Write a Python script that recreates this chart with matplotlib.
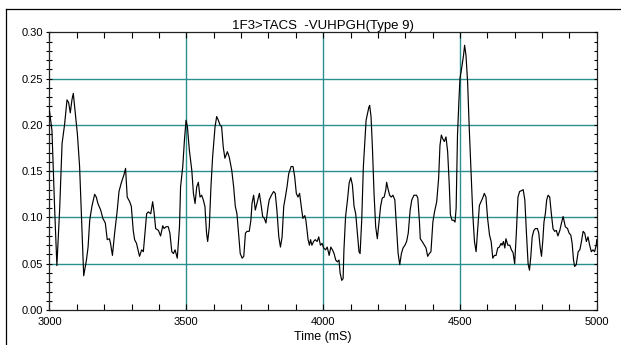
import matplotlib
matplotlib.use("Agg")
import matplotlib.pyplot as plt
from matplotlib.ticker import MultipleLocator, FormatStrFormatter
from matplotlib.lines import Line2D

plt.rcParams['font.family'] = ['Liberation Sans', 'DejaVu Sans']

# signal (time in ms, amplitude)
time_ms = [3000, 3009, 3019, 3027, 3037, 3046, 3055, 3064, 3070, 3076,
           3082, 3087, 3092, 3102, 3110, 3116, 3125, 3135, 3141, 3147,
           3155, 3165, 3171, 3177, 3187, 3195, 3204, 3211, 3219, 3223,
           3230, 3238, 3247, 3254, 3262, 3272, 3278, 3284, 3293, 3299,
           3306, 3311, 3318, 3329,
           3337, 3343, 3349, 3355, 3361, 3370, 3377, 3382, 3388, 3398,
           3406, 3414, 3419, 3426, 3434, 3440, 3447, 3453, 3459, 3467,
           3475, 3479, 3487, 3493, 3499, 3504, 3511, 3520, 3526, 3532,
           3538, 3544, 3550, 3556, 3562, 3568, 3574, 3578, 3584, 3590,
           3596, 3605, 3611, 3617, 3623, 3629, 3635, 3641, 3650, 3657,
           3666,
           3673, 3679, 3685, 3691, 3697, 3704, 3710, 3716, 3722, 3730,
           3736, 3740, 3746, 3752, 3758, 3767, 3774, 3779, 3785, 3791,
           3799, 3803, 3811, 3819, 3825, 3831, 3838, 3844, 3850, 3856,
           3862, 3868, 3874, 3883, 3890, 3896, 3902, 3908, 3914, 3920,
           3926, 3933, 3937, 3945, 3950, 3954, 3959, 3965, 3971, 3978,
           3984, 3990, 3996, 4002,
           4009, 4015, 4022, 4028, 4034, 4040, 4046, 4052, 4058, 4062,
           4068, 4073, 4076, 4082, 4089, 4095, 4101, 4107, 4113, 4119,
           4125, 4131, 4135, 4141, 4147, 4152, 4157, 4162, 4167, 4170,
           4175, 4180, 4186, 4192, 4198, 4204, 4210, 4216, 4223, 4229,
           4232, 4237, 4243, 4249, 4255, 4262, 4268, 4274, 4280, 4286,
           4292, 4299, 4305, 4311, 4318, 4324, 4332, 4341,
           4346, 4352, 4355, 4362, 4370, 4376, 4382, 4388, 4394, 4401,
           4407, 4415, 4422, 4427, 4432, 4437, 4443, 4449, 4455, 4461,
           4465, 4471, 4477, 4482, 4486, 4491, 4496, 4500, 4506, 4513,
           4517, 4522, 4528, 4534, 4541, 4547, 4553, 4559, 4565, 4571,
           4577, 4583, 4589, 4595, 4601, 4608, 4614, 4620, 4626, 4632,
           4638, 4644, 4650, 4654, 4659, 4664, 4668, 4675,
           4682, 4688, 4694, 4700, 4706, 4712, 4718, 4725, 4731, 4737,
           4743, 4749, 4754, 4759, 4764, 4770, 4776, 4783, 4788, 4793,
           4798, 4803, 4807, 4812, 4817, 4822, 4828, 4834, 4840, 4846,
           4852, 4858, 4865, 4871, 4877, 4880, 4885, 4893, 4899, 4905,
           4910, 4915, 4919, 4925, 4932, 4938, 4944, 4950, 4956, 4962,
           4968, 4974, 4980, 4986, 4992, 4998, 5000]

amplitude = [0.215, 0.194, 0.108, 0.048, 0.108, 0.180, 0.200, 0.227, 0.224, 0.213,
             0.227, 0.234, 0.219, 0.190, 0.155, 0.108, 0.037, 0.054, 0.068, 0.097,
             0.112, 0.125, 0.122, 0.115, 0.108, 0.099, 0.094, 0.076, 0.077, 0.072,
             0.059, 0.083, 0.106, 0.128, 0.137, 0.146, 0.153, 0.122, 0.117, 0.112,
             0.086, 0.076, 0.072, 0.058,
             0.065, 0.063, 0.083, 0.104, 0.106, 0.104, 0.117, 0.106, 0.088, 0.086,
             0.080, 0.091, 0.088, 0.090, 0.090, 0.083, 0.063, 0.061, 0.065, 0.056,
             0.090, 0.133, 0.155, 0.183, 0.205, 0.198, 0.173, 0.151, 0.126, 0.115,
             0.133, 0.138, 0.122, 0.124, 0.119, 0.112, 0.083, 0.074, 0.090, 0.133,
             0.165, 0.198, 0.209, 0.205, 0.200, 0.198, 0.176, 0.164, 0.171, 0.165,
             0.151,
             0.133, 0.112, 0.104, 0.083, 0.061, 0.056, 0.058, 0.083, 0.085, 0.085,
             0.097, 0.115, 0.124, 0.108, 0.115, 0.126, 0.112, 0.101, 0.099, 0.094,
             0.112, 0.119, 0.124, 0.128, 0.126, 0.108, 0.079, 0.068, 0.079, 0.112,
             0.122, 0.133, 0.147, 0.155, 0.155, 0.144, 0.126, 0.122, 0.126, 0.112,
             0.099, 0.102, 0.097, 0.076, 0.070, 0.076, 0.070, 0.074, 0.076, 0.074,
             0.079, 0.070, 0.072, 0.067,
             0.065, 0.068, 0.059, 0.068, 0.065, 0.061, 0.054, 0.052, 0.054, 0.040,
             0.032, 0.034, 0.065, 0.101, 0.119, 0.137, 0.143, 0.135, 0.112, 0.104,
             0.083, 0.063, 0.061, 0.097, 0.155, 0.180, 0.205, 0.212, 0.219, 0.221,
             0.209, 0.176, 0.126, 0.090, 0.077, 0.094, 0.112, 0.121, 0.122, 0.130,
             0.138, 0.131, 0.124, 0.122, 0.124, 0.119, 0.090, 0.061, 0.049, 0.061,
             0.067, 0.070, 0.074, 0.083, 0.108, 0.119, 0.124, 0.124,
             0.121, 0.095, 0.077, 0.074, 0.070, 0.067, 0.058, 0.061, 0.063, 0.095,
             0.106, 0.117, 0.142, 0.178, 0.189, 0.185, 0.182, 0.187, 0.171, 0.135,
             0.103, 0.097, 0.097, 0.095, 0.110, 0.189, 0.225, 0.250, 0.261, 0.275,
             0.286, 0.275, 0.246, 0.196, 0.146, 0.103, 0.074, 0.063, 0.088, 0.113,
             0.117, 0.121, 0.126, 0.122, 0.099, 0.081, 0.074, 0.056, 0.059, 0.059,
             0.067, 0.068, 0.072, 0.070, 0.074, 0.067, 0.077, 0.070,
             0.070, 0.065, 0.062, 0.050, 0.083, 0.122, 0.128, 0.129, 0.130, 0.119,
             0.083, 0.050, 0.043, 0.058, 0.079, 0.086, 0.088, 0.088, 0.083, 0.068,
             0.058, 0.076, 0.095, 0.104, 0.119, 0.124, 0.122, 0.104, 0.088, 0.085,
             0.086, 0.080, 0.086, 0.094, 0.101, 0.097, 0.090, 0.088, 0.083, 0.081,
             0.072, 0.054, 0.047, 0.049, 0.063, 0.065, 0.074, 0.085, 0.083, 0.074,
             0.079, 0.070, 0.063, 0.065, 0.063, 0.070, 0.076]

x_grid = [3500, 4000, 4500]
y_grid = [0.05, 0.10, 0.15, 0.20, 0.25]
title = "1F3>TACS  -VUHPGH(Type 9)"

fig = plt.figure(figsize=(6.21, 3.45), dpi=100)
ax = fig.add_axes([0.0797, 0.1014, 0.8813, 0.8050])

grid_color = '#2a8f8f'
for gx in x_grid:
    ax.axvline(gx, color=grid_color, lw=1.0, zorder=1)
for gy in y_grid:
    ax.axhline(gy, color=grid_color, lw=1.0, zorder=1)

ax.plot(time_ms, amplitude, color='black', lw=0.85, zorder=3)

ax.set_xlim(3000, 5000)
ax.set_ylim(0.0, 0.30)
ax.xaxis.set_major_locator(MultipleLocator(500))
ax.xaxis.set_minor_locator(MultipleLocator(100))
ax.yaxis.set_major_locator(MultipleLocator(0.05))
ax.yaxis.set_minor_locator(MultipleLocator(0.01))
ax.yaxis.set_major_formatter(FormatStrFormatter('%.2f'))

ax.tick_params(axis='x', which='both', direction='in', top=True, bottom=True,
               length=4, width=0.8, labelsize=8, pad=5)
ax.tick_params(axis='y', which='both', direction='inout', left=True, right=False,
               length=5, width=0.8, labelsize=8, pad=2)
for sp in ax.spines.values():
    sp.set_linewidth(0.9)
    sp.set_color('#222222')

# right side ticks pointing inward
ax2 = ax.twinx()
ax2.set_ylim(0.0, 0.30)
ax2.yaxis.set_major_locator(MultipleLocator(0.01))
ax2.tick_params(axis='y', direction='in', length=2.5, width=0.8, labelright=False)
ax2.spines[:].set_visible(False)

ax.set_title(title, fontsize=9.5, pad=2)
ax.set_xlabel("Time (mS)", fontsize=9, labelpad=3)

# outer frame (left and top edge visible)
fig.add_artist(Line2D([5.5 / 621, 5.5 / 621], [0, 1 - 8.7 / 345], color='black', lw=0.9))
fig.add_artist(Line2D([5.5 / 621, 1], [1 - 8.7 / 345, 1 - 8.7 / 345], color='black', lw=0.9))

fig.savefig("out.png", dpi=100)
